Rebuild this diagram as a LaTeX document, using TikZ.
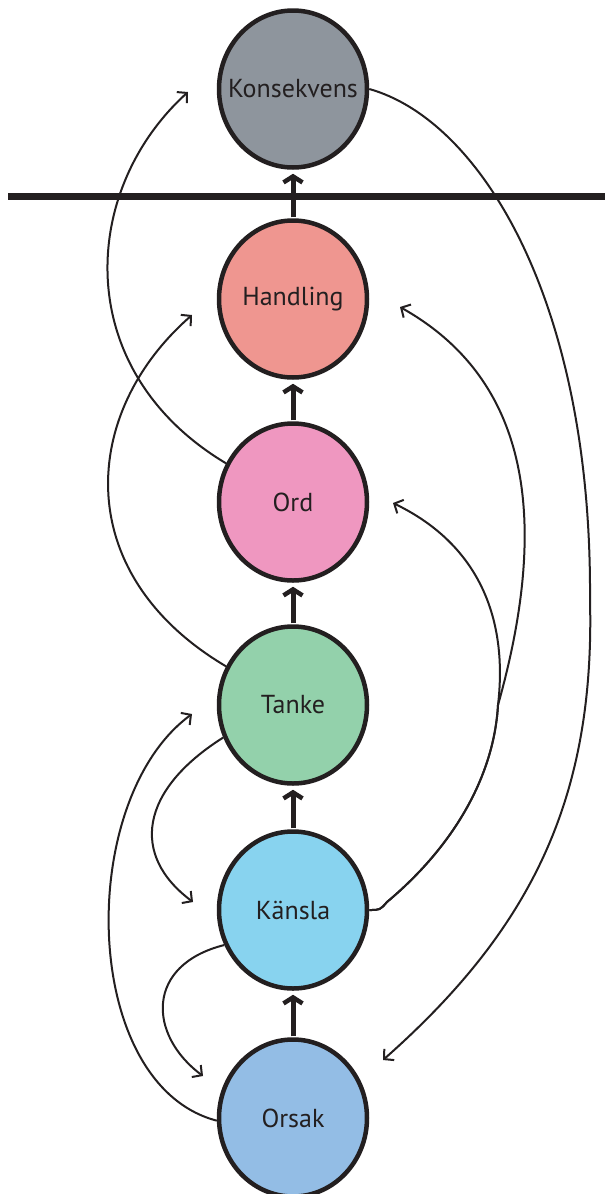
\documentclass[tikz,border=0pt]{standalone}
\usepackage{fontspec}
\setmainfont{PT Sans}
\usepackage{tikz}
\usetikzlibrary{arrows.meta,shapes.geometric}
\usepackage{xcolor}
\definecolor{konsgray}{HTML}{8E959D}
\definecolor{handred}{HTML}{EF9690}
\definecolor{ordpink}{HTML}{EF97C0}
\definecolor{tankegreen}{HTML}{93D1AB}
\definecolor{kanslablue}{HTML}{88D3EF}
\definecolor{orsakblue}{HTML}{93BDE5}
\definecolor{ink}{HTML}{231F20}

\begin{document}
\begin{tikzpicture}[x=1pt,y=-1pt,>={Straight Barb[length=7pt,width=15pt]},
  stage/.style={ellipse,draw=ink,line width=4.5pt,minimum width=148pt,minimum height=157pt,
    inner xsep=-15pt,inner ysep=0pt,text=ink,font=\fontsize{26}{30}\selectfont},
  link/.style={->,draw=ink,line width=2pt},
  climb/.style={draw=ink,line width=5pt,shorten <=1pt,shorten >=4pt,
    -{Straight Barb[length=6pt,width=19pt,line width=4.5pt]}}]
\useasboundingbox (0,0) rectangle (605,1194);
%%%STAGES
\node[stage,fill=konsgray]   (kons)   at (293,89)   {Konsekvens};
\node[stage,fill=handred]    (hand)   at (293,299)  {Handling};
\node[stage,fill=ordpink]    (ord)    at (293,502)  {Ord};
\node[stage,fill=tankegreen] (tanke)  at (293,705)  {Tanke};
\node[stage,fill=kanslablue] (kansla) at (293,910)  {Känsla};
\node[stage,fill=orsakblue]  (orsak)  at (293,1118) {Orsak};
%%%FREE ENDS
\coordinate (kons-in)   at (188,92);
\coordinate (hand-in)   at (192,315);
\coordinate (hand-rin)  at (400,307);
\coordinate (ord-rin)   at (393,503);
\coordinate (tanke-in)  at (192,714);
\coordinate (kansla-in) at (193,902);
\coordinate (orsak-in)  at (203,1076);
\coordinate (orsak-rin) at (383,1060);
\coordinate (fork)      at (498,705);
%%%MAIN CHAIN
\draw[climb] (hand.north) -- (kons.south);
\draw[climb] (ord.north) -- (hand.south);
\draw[climb] (tanke.north) -- (ord.south);
\draw[climb] (kansla.north) -- (tanke.south);
\draw[climb] (orsak.north) -- (kansla.south);
%%%SIDE LINKS
\draw[link] (ord.150) .. controls (70,370) and (80,190) .. (kons-in);
\draw[link] (tanke.150) .. controls (70,574) and (80,413) .. (hand-in);
\draw[link] (tanke.205) .. controls (140,790) and (130,855) .. (kansla-in);
\draw[link] (kansla.207) .. controls (145,965) and (148,1035) .. (orsak-in);
\draw[link] (orsak.182) .. controls (80,1085) and (75,800) .. (tanke-in);
\draw[link] (kansla.east) .. controls (380,910) .. (387,902)
  .. controls (455,845) and (494,775) .. (fork)
  .. controls (508,620) and (480,545) .. (ord-rin);
\draw[link] (kansla.east) .. controls (380,910) .. (387,902)
  .. controls (455,845) and (494,775) .. (fork)
  .. controls (550,520) and (530,380) .. (hand-rin);
\draw[link] (kons.east) .. controls (480,120) and (592,300) .. (590,600)
  .. controls (595,800) and (530,930) .. (orsak-rin);
%%%BORDER
\draw[ink,line width=7pt] (8,196.5) -- (605,196.5);
\end{tikzpicture}
\end{document}
